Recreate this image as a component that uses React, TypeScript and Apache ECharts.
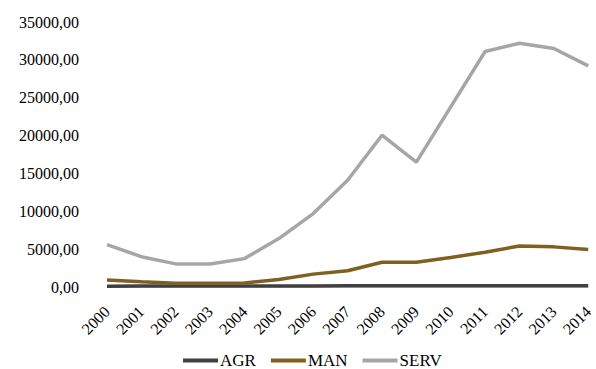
import React, { useEffect, useRef } from "react";
import * as echarts from "echarts";

const years = ["2000", "2001", "2002", "2003", "2004", "2005", "2006", "2007", "2008", "2009", "2010", "2011", "2012", "2013", "2014"];
const agr = [110, 120, 120, 120, 130, 130, 140, 150, 160, 160, 160, 170, 170, 170, 170];
const man = [930, 700, 490, 500, 530, 1000, 1700, 2150, 3260, 3260, 3900, 4600, 5420, 5300, 4950];
const serv = [5600, 4000, 3050, 3050, 3750, 6400, 9700, 14100, 20050, 16500, 23800, 31100, 32200, 31500, 29200];

const FONT = "'Liberation Serif', 'Times New Roman', serif";

export default function App() {
  const ref = useRef<HTMLDivElement>(null);
  useEffect(() => {
    if (!ref.current) return;
    const chart = echarts.init(ref.current, null, { renderer: "svg" });
    const mk = (name: string, data: number[], color: string) => ({
      name,
      type: "line",
      data,
      symbol: "none",
      lineStyle: { color, width: 3.5 },
      itemStyle: { color },
    });
    chart.setOption({
      animation: false,
      backgroundColor: "#ffffff",
      textStyle: { fontFamily: FONT },
      grid: { left: 107, right: 6, top: 22, bottom: 82, containLabel: false },
      legend: {
        top: 347,
        left: 178,
        icon: "rect",
        itemWidth: 35,
        itemHeight: 4,
        itemGap: 15,
        textStyle: { fontFamily: FONT, fontSize: 17, color: "#000", padding: [0, 0, 0, -3] },
        data: ["AGR", "MAN", "SERV"],
      },
      xAxis: {
        type: "category",
        data: years,
        boundaryGap: false,
        axisLine: { lineStyle: { color: "#d9d9d9", width: 1 } },
        axisTick: { show: false },
        axisLabel: { rotate: 45, fontSize: 16, color: "#000", fontFamily: FONT, margin: 22 },
      },
      yAxis: {
        type: "value",
        min: 0,
        max: 35000,
        interval: 5000,
        splitLine: { show: false },
        axisLine: { show: false },
        axisTick: { show: false },
        axisLabel: {
          fontSize: 16,
          color: "#000",
          fontFamily: FONT,
          margin: 28,
          formatter: (v: number) => v.toFixed(2).replace(".", ","),
        },
      },
      series: [
        mk("AGR", agr, "#404040"),
        mk("MAN", man, "#7f6020"),
        mk("SERV", serv, "#a6a6a6"),
      ],
    });
    return () => chart.dispose();
  }, []);
  return <div ref={ref} style={{ width: 596, height: 369, position: "absolute", left: 0, top: 0 }} />;
}
